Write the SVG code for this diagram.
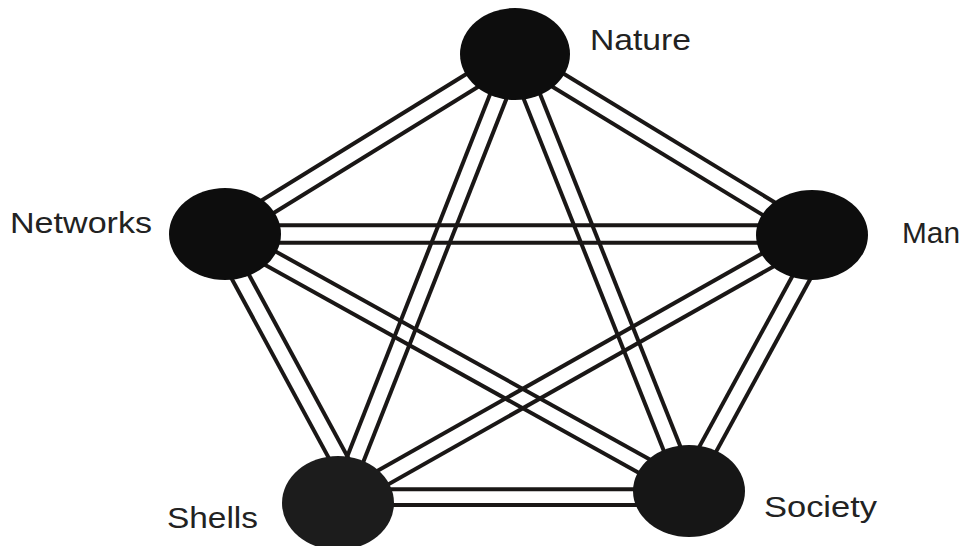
<svg xmlns="http://www.w3.org/2000/svg" width="967" height="546" viewBox="0 0 967 546">
<style>
.bg{fill:#ffffff}
.edge line{stroke:#1a1716;stroke-width:4;stroke-linecap:butt}
.node ellipse{fill:#0d0d0d}
.lbl{font-family:"Liberation Sans",Arial,sans-serif;font-size:30px;fill:#222222}
</style>
<rect class="bg" x="0" y="0" width="967" height="546"/>
<g id="connectors" class="edge">
  <g id="e-networks-nature"><line x1="229.5" y1="240.2" x2="519.5" y2="61.2"/><line x1="220.5" y1="225.8" x2="510.5" y2="46.8"/></g>
  <g id="e-nature-man"><line x1="510.6" y1="61.3" x2="807.6" y2="242.3"/><line x1="519.4" y1="46.7" x2="816.4" y2="227.7"/></g>
  <g id="e-nature-shells"><line x1="507.1" y1="50.9" x2="330.1" y2="499.9"/><line x1="522.9" y1="57.1" x2="345.9" y2="506.1"/></g>
  <g id="e-nature-society"><line x1="507.1" y1="57.2" x2="681.1" y2="494.2"/><line x1="522.9" y1="50.9" x2="696.9" y2="487.9"/></g>
  <g id="e-networks-man"><line x1="225" y1="225.3" x2="812" y2="225.3"/><line x1="225" y1="242.7" x2="812" y2="242.7"/></g>
  <g id="e-networks-shells"><line x1="209.7" y1="238.1" x2="353.8" y2="504.1"/><line x1="224.7" y1="229.9" x2="368.8" y2="495.9"/></g>
  <g id="e-networks-society"><line x1="220.9" y1="240.4" x2="684.9" y2="498.4"/><line x1="229.1" y1="225.6" x2="693.1" y2="483.6"/></g>
  <g id="e-man-shells"><line x1="807.8" y1="227.6" x2="333.8" y2="495.6"/><line x1="816.2" y1="242.4" x2="342.2" y2="510.4"/></g>
  <g id="e-man-society"><line x1="816.5" y1="231.9" x2="678.5" y2="484.9"/><line x1="831.5" y1="240.1" x2="693.5" y2="493.1"/></g>
  <g id="e-shells-society"><line x1="338" y1="489.2" x2="689" y2="489.2"/><line x1="338" y1="505" x2="689" y2="505"/></g>
</g>
<g id="nature" class="node"><ellipse cx="515" cy="54" rx="55" ry="46"/><text class="lbl" x="590" y="50" textLength="101" lengthAdjust="spacingAndGlyphs">Nature</text></g>
<g id="networks" class="node"><ellipse cx="225" cy="234" rx="56" ry="46"/><text class="lbl" x="10" y="233" textLength="142" lengthAdjust="spacingAndGlyphs">Networks</text></g>
<g id="man" class="node"><ellipse cx="812" cy="235" rx="56" ry="45"/><text class="lbl" x="902" y="243" textLength="58" lengthAdjust="spacingAndGlyphs">Man</text></g>
<g id="shells" class="node"><ellipse cx="338" cy="503" rx="56" ry="47" style="fill:#1c1c1c"/><text class="lbl" x="167" y="528" textLength="91" lengthAdjust="spacingAndGlyphs">Shells</text></g>
<g id="society" class="node"><ellipse cx="689" cy="491" rx="56" ry="46" style="fill:#161616"/><text class="lbl" x="764" y="517" textLength="113" lengthAdjust="spacingAndGlyphs">Society</text></g>
</svg>
